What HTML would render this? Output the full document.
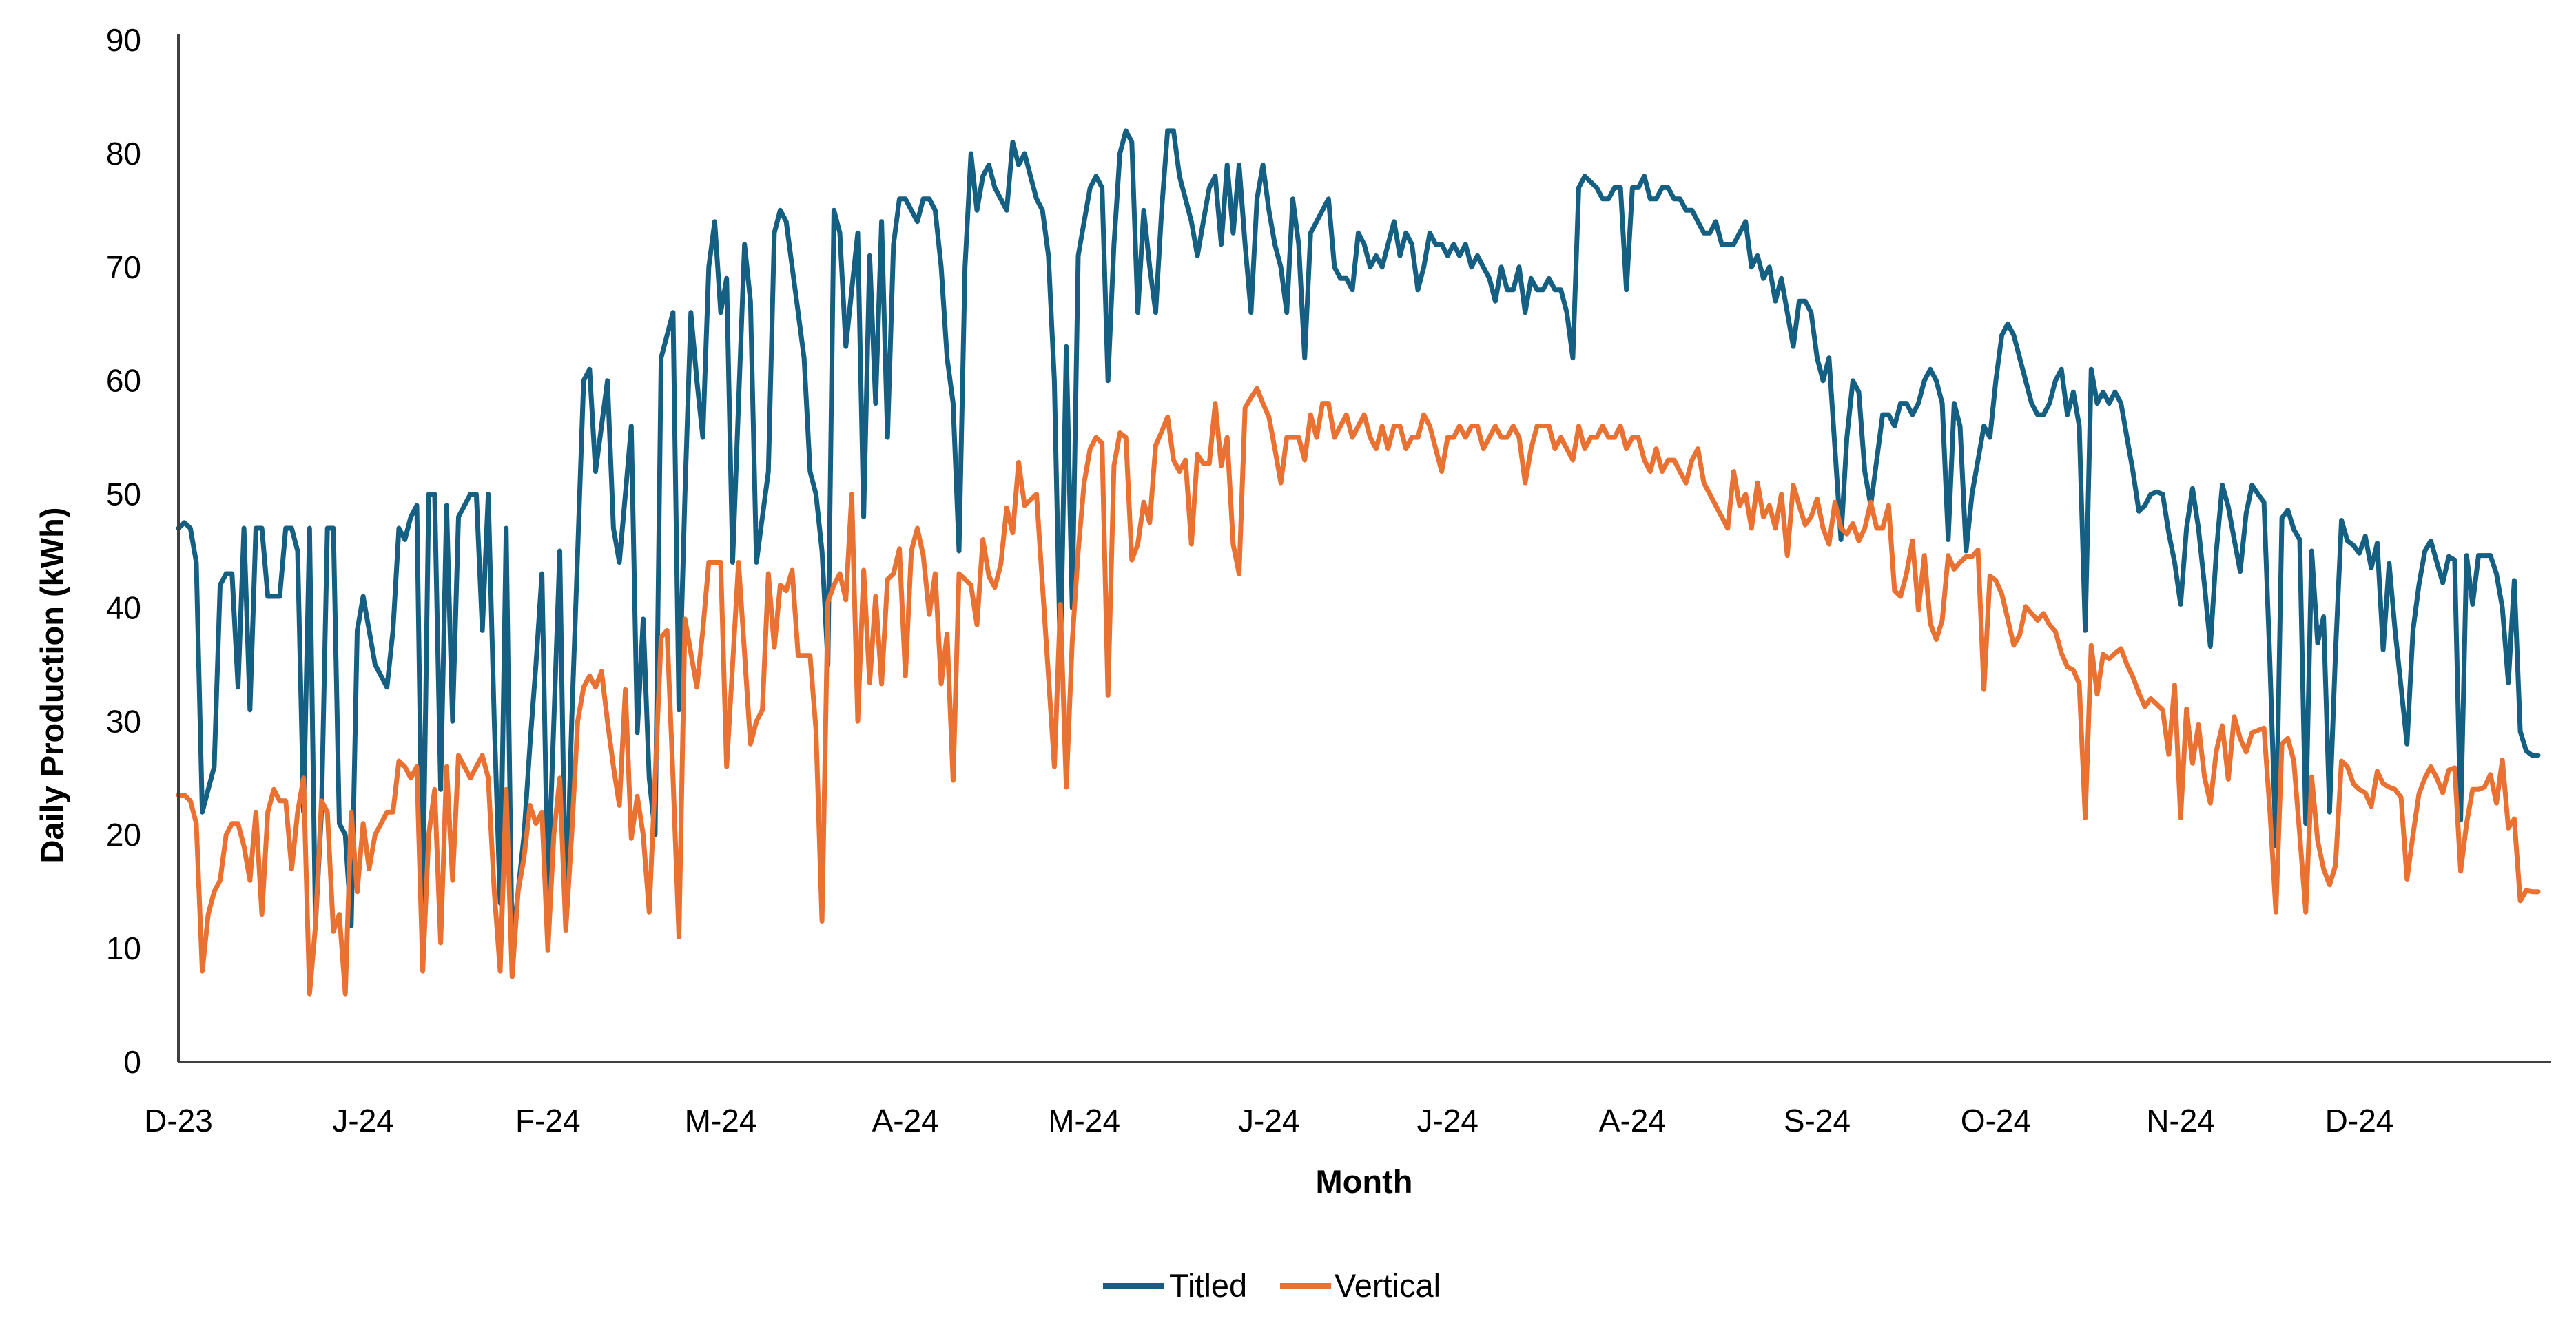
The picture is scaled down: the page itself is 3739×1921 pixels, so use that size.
<!DOCTYPE html>
<html><head><meta charset="utf-8"><style>
html,body{margin:0;padding:0;background:#fff;}
svg{display:block;font-family:"Liberation Sans",Arial,sans-serif;}
</style></head><body>
<svg id="chart" width="3739" height="1921" viewBox="0 0 3739 1921" xmlns="http://www.w3.org/2000/svg">
<g id="series"></g>
<g id="axes"></g>
<text x="0" y="0" transform="translate(92,995) rotate(-90)" text-anchor="middle" font-size="47" font-weight="bold" fill="#000">Daily Production (kWh)</text>
<text x="1980" y="1732" text-anchor="middle" font-size="47" font-weight="bold" fill="#000">Month</text>
<g>
<line x1="1601" y1="1867" x2="1690" y2="1867" stroke="#156082" stroke-width="8"/>
<text x="1697" y="1883" font-size="47" fill="#000">Titled</text>
<line x1="1858" y1="1867" x2="1932" y2="1867" stroke="#E97132" stroke-width="8"/>
<text x="1937" y="1883" font-size="47" fill="#000">Vertical</text>
</g>
</svg>
<script>
const monthLabels=["D-23","J-24","F-24","M-24","A-24","M-24","J-24","J-24","A-24","S-24","O-24","N-24","D-24"];
const monthDays=[31,31,29,31,30,31,30,31,31,30,31,30,31];
const yTicks=[0,10,20,30,40,50,60,70,80,90];
const titled=[
47,47.5,47,44,22,24,26,42,43,43,33,47,31,47,47,41,41,41,47,47,45,22,47,12,22,47,47,21,20,12,38,
41,38,35,34,33,38,47,46,48,49,14,50,50,24,49,30,48,49,50,50,38,50,30,14,47,10,15,20,28,35,43,
15,30,45,12,30,45,60,61,52,56,60,47,44,50,56,29,39,25,20,62,64,66,31,50,66,60,55,70,74,
66,69,44,58,72,67,44,48,52,73,75,74,70,66,62,52,50,45,35,75,73,63,68,73,48,71,58,74,55,72,76,
76,75,74,76,76,75,70,62,58,45,70,80,75,78,79,77,76,75,81,79,80,78,76,75,71,60,35,63,40,71,
74,77,78,77,60,72,80,82,81,66,75,70,66,75,82,82,78,76,74,71,74,77,78,72,79,73,79,72,66,76,79,
75,72,70,66,76,72,62,73,74,75,76,70,69,69,68,73,72,70,71,70,72,74,71,73,72,68,70,73,72,72,
71,72,71,72,70,71,70,69,67,70,68,68,70,66,69,68,68,69,68,68,66,62,77,78,77.5,77,76,76,77,77,68,
77,77,78,76,76,77,77,76,76,75,75,74,73,73,74,72,72,72,73,74,70,71,69,70,67,69,66,63,67,67,66,
62,60,62,54,46,55,60,59,52,49,53,57,57,56,58,58,57,58,60,61,60,58,46,58,56,45,50,53,56,55,
60,64,65,64,62,60,58,57,57,58,60,61,57,59,56,38,61,58,59,58,59,58,55,52,48.5,49,50,50.2,50,46.6,44,
40.3,47,50.5,47,42,36.6,45,50.8,48.9,46,43.2,48.3,50.8,50,49.3,35,19,47.9,48.6,46.9,46,21,45,36.9,39.2,22,36,47.7,45.9,45.5,
44.8,46.3,43.5,45.7,36.3,43.9,38,33,28,38,42,45,45.9,44,42.2,44.5,44.2,21.3,44.6,40.3,44.6,44.6,44.6,43,40,33.4,42.4,29.1,27.4,27,27];
const vertical=[
23.5,23.5,23,21,8,13,15,16,20,21,21,19,16,22,13,22,24,23,23,17,22,25,6,12,23,22,11.5,13,6,22,15,
21,17,20,21,22,22,26.5,26,25,26,8,20,24,10.5,26,16,27,26,25,26,27,25,15,8,24,
7.5,15,18,22.6,21,22,9.8,20,25,11.6,
20,30,33,34,33,34.4,30,26,22.6,32.8,
19.7,23.4,20,13.2,25,37.4,38,25,11,39,
36,33,38,44,44,44,26,35,44,36,
28,30,31,43,36.5,42,41.5,43.3,35.8,35.8,
35.8,29.2,12.4,40.5,42,43,40.7,50,30,43.3,
33.4,41,33.3,42.5,43,45.2,34,45,47,44.6,
39.4,43,33.3,37.7,24.8,43,42.5,42,38.5,46,
42.8,41.8,43.8,48.8,46.6,52.8,49,49.5,50,42,
34,26,40.3,24.2,37,45,51,54,55,54.5,
32.3,52.5,55.4,55,44.2,45.6,49.3,47.5,54.3,55.5,
56.8,53,52,53,45.6,53.5,52.7,52.7,58,52.5,
55,45.6,43,57.6,58.5,59.3,58,56.8,
54,51,55,55,55,53,57,55,58,58,55,56,57,55,56,57,55,54,56,54,56,56,54,55,55,57,56,54,52,
55,55,56,55,56,56,54,55,56,55,55,56,55,51,54,56,56,56,54,55,54,53,56,54,55,55,56,55,55,56,54,
55,55,53,52,54,52,53,53,52,51,53,54,51,50,49,48,47,52,49,50,47,51,48,49,47,
50,44.6,50.8,49,47.3,48,
49.6,47,45.6,49.3,47,46.5,47.4,45.9,47,49.3,47,47,49,41.5,41,43,45.9,39.8,44.6,38.6,
37.2,38.9,44.6,43.4,44,44.5,44.5,45.1,32.8,42.8,42.4,41.2,39,36.7,37.6,40.1,39.5,38.9,39.5,38.5,
37.9,36,34.8,34.5,33.3,21.5,36.7,32.4,35.9,35.5,36,36.4,35,33.9,32.5,31.3,32,31.5,31,27.1,
33.2,21.5,31.1,26.3,29.7,25.1,22.8,27.4,29.6,24.9,30.4,28.5,27.3,29,29.2,29.4,22,13.2,28,28.5,
26.5,20,13.2,25.1,19.5,17,15.6,17.3,26.5,26,24.5,24,23.7,22.5,25.6,24.5,24.2,24,23.3,16.1,
20,23.6,25,26,25,23.7,25.7,25.9,16.8,21,24,24,24.2,25.3,22.8,26.6,20.6,21.4,14.2,15.1,
15,15];

const NS="http://www.w3.org/2000/svg";
const L=259,R=3684,Y0=1542,Y90=58;
const totalDays=monthDays.reduce((a,b)=>a+b,0);
const dayW=(R-L)/(totalDays-1);
function xScale(i){return L+i*dayW;}
function yScale(v){return Y0-(v/90)*(Y0-Y90);}
function mk(tag,attrs,parent){const e=document.createElementNS(NS,tag);for(const k in attrs)e.setAttribute(k,attrs[k]);parent.appendChild(e);return e;}
const axes=document.getElementById('axes');
const series=document.getElementById('series');
yTicks.forEach(t=>{
  const tx=mk('text',{x:205,y:yScale(t)+16,'text-anchor':'end','font-size':'46',fill:'#000'},axes);
  
  
  tx.textContent=t;
});
let start=0;
monthLabels.forEach((m,i)=>{
  const tx=mk('text',{x:xScale(start),y:1643,'text-anchor':'middle','font-size':'46',fill:'#000'},axes);
  
  
  tx.textContent=m;
  start+=monthDays[i];
});
function drawSeries(arr,color,name){
  let d='';
  arr.forEach((v,i)=>{d+=(i?'L':'M')+xScale(i).toFixed(1)+','+yScale(v).toFixed(1);});
  const p=mk('path',{d:d,fill:'none',stroke:color,'stroke-width':'7','stroke-linejoin':'round','stroke-linecap':'round'},series);
  
  
}
drawSeries(titled,'#156082','titled-line');
drawSeries(vertical,'#E97132','vertical-line');
const ya=mk('line',{x1:L,y1:Y90-8,x2:L,y2:Y0,stroke:'#404040','stroke-width':'4'},axes);


const xa=mk('line',{x1:L,y1:Y0,x2:R+18,y2:Y0,stroke:'#404040','stroke-width':'4'},axes);


</script>
</body></html>
